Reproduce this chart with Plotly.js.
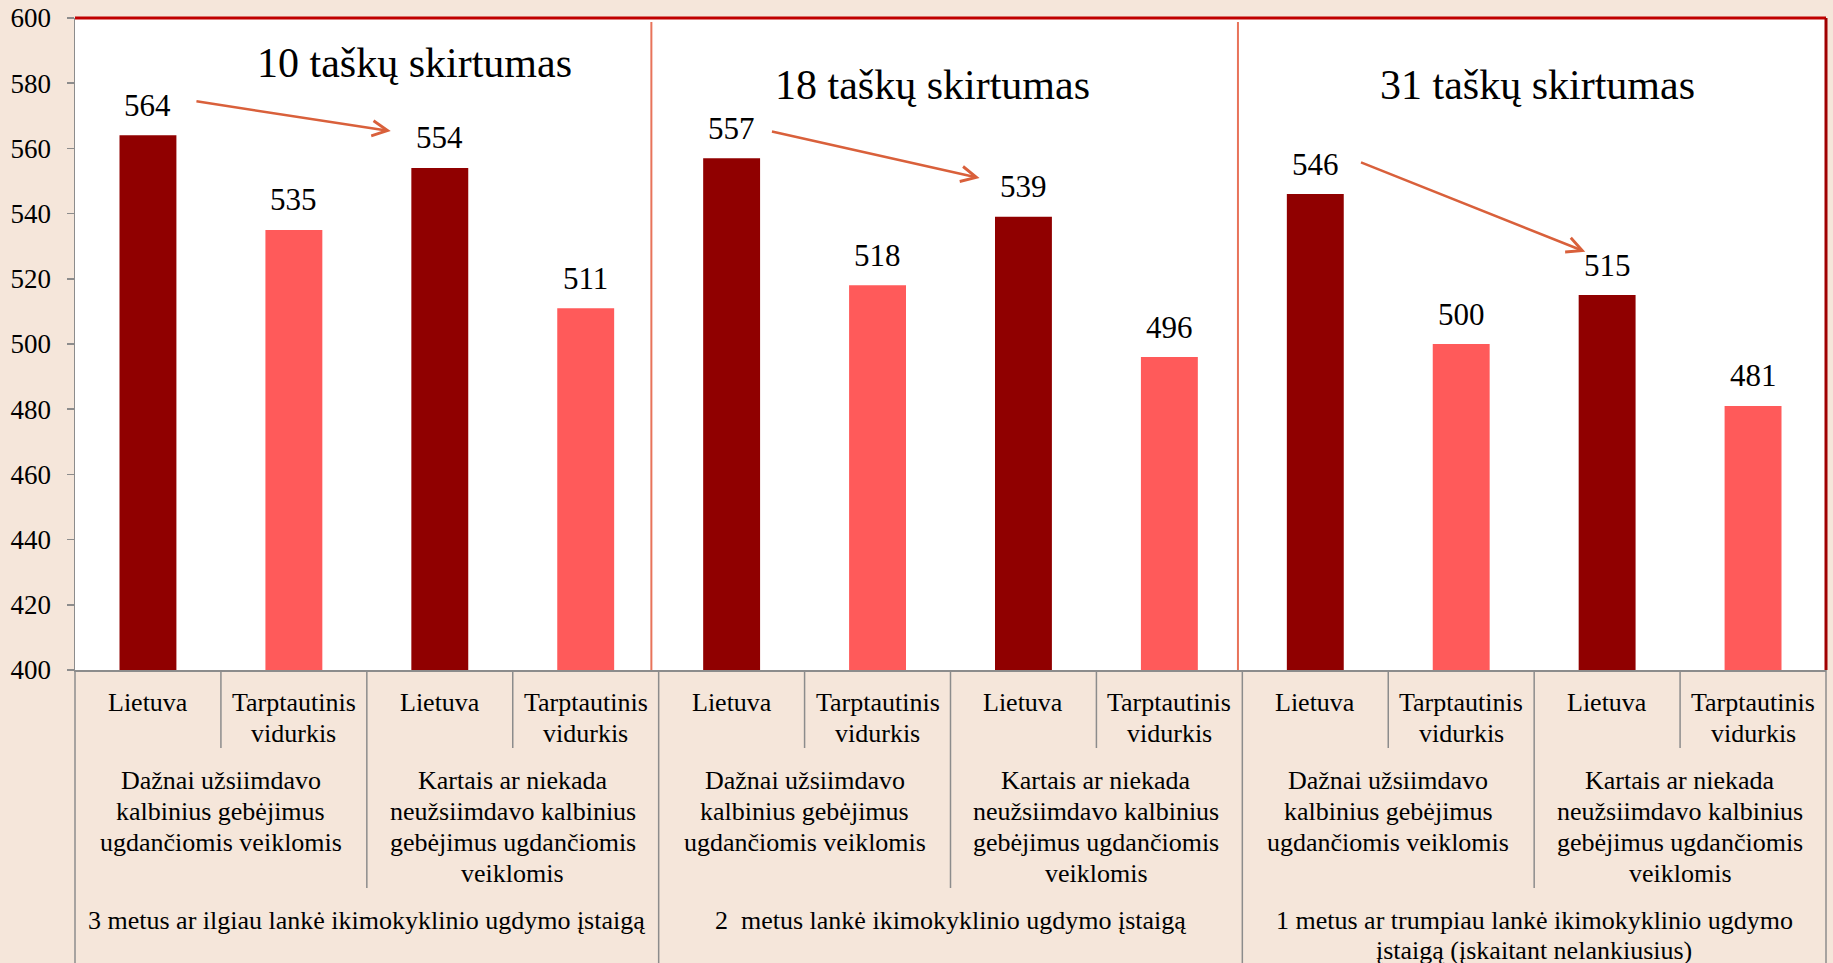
<!DOCTYPE html>
<html>
<head>
<meta charset="utf-8">
<script src="https://cdn.plot.ly/plotly-3.0.1.min.js"></script>
<style>
  html, body { margin: 0; padding: 0; background: #F5E6DA; }
  #chart { width: 1833px; height: 963px; }
</style>
</head>
<body>
<div id="chart"></div>
<script>
// ---------------- DATA ----------------
const categories = [
  "Lietuva", "Tarptautinis vidurkis", "Lietuva", "Tarptautinis vidurkis",
  "Lietuva", "Tarptautinis vidurkis", "Lietuva", "Tarptautinis vidurkis",
  "Lietuva", "Tarptautinis vidurkis", "Lietuva", "Tarptautinis vidurkis"
];
const lietuvaValues = [564, 554, 557, 539, 546, 515];
const tarptautinisValues = [535, 511, 518, 496, 500, 481];

const level1Labels = [
  "Lietuva", "Tarptautinis\nvidurkis", "Lietuva", "Tarptautinis\nvidurkis",
  "Lietuva", "Tarptautinis\nvidurkis", "Lietuva", "Tarptautinis\nvidurkis",
  "Lietuva", "Tarptautinis\nvidurkis", "Lietuva", "Tarptautinis\nvidurkis"
];
const level2Labels = [
  "Dažnai užsiimdavo\nkalbinius gebėjimus\nugdančiomis veiklomis",
  "Kartais ar niekada\nneužsiimdavo kalbinius\ngebėjimus ugdančiomis\nveiklomis",
  "Dažnai užsiimdavo\nkalbinius gebėjimus\nugdančiomis veiklomis",
  "Kartais ar niekada\nneužsiimdavo kalbinius\ngebėjimus ugdančiomis\nveiklomis",
  "Dažnai užsiimdavo\nkalbinius gebėjimus\nugdančiomis veiklomis",
  "Kartais ar niekada\nneužsiimdavo kalbinius\ngebėjimus ugdančiomis\nveiklomis"
];
const level3Labels = [
  "3 metus ar ilgiau lankė ikimokyklinio ugdymo įstaigą",
  "2\u00A0 metus lankė ikimokyklinio ugdymo įstaigą",
  "1 metus ar trumpiau lankė ikimokyklinio ugdymo\nįstaigą (įskaitant nelankiusius)"
];
const differenceTitles = ["10 taškų skirtumas", "18 taškų skirtumas", "31 taškų skirtumas"];

// ---------------- STYLE / LAYOUT HELPERS ----------------
const FONT = '"Liberation Serif", "Times New Roman", Times, serif';
const DARK = '#900000';
const LIGHT = '#FF5A5A';
const GRID_GRAY = '#8C8C8C';
const ARROW_COLOR = '#D9603B';
const N = categories.length;

const lietuvaX = lietuvaValues.map((_, k) => 2 * k);
const tarptX = tarptautinisValues.map((_, k) => 2 * k + 1);
const allValues = [];
lietuvaValues.forEach((v, k) => { allValues[2 * k] = v; allValues[2 * k + 1] = tarptautinisValues[k]; });

const traces = [
  { type: 'bar', name: 'Lietuva', x: lietuvaX, y: lietuvaValues, width: 0.39,
    marker: { color: DARK }, hoverinfo: 'skip' },
  { type: 'bar', name: 'Tarptautinis vidurkis', x: tarptX, y: tarptautinisValues, width: 0.39,
    marker: { color: LIGHT }, hoverinfo: 'skip' }
];

const annotations = [];

// value labels above bars
allValues.forEach((v, i) => {
  annotations.push({ x: i, y: v, xref: 'x', yref: 'y', text: String(v), showarrow: false,
    yanchor: 'middle', yshift: 30, font: { family: FONT, size: 31, color: '#000' } });
});

// difference titles
const titlePos = [ { x: 1.83, y: 586.2 }, { x: 5.38, y: 579.3 }, { x: 9.52, y: 579.3 } ];
differenceTitles.forEach((t, g) => {
  annotations.push({ x: titlePos[g].x, y: titlePos[g].y, xref: 'x', yref: 'y', text: t,
    showarrow: false, yanchor: 'middle', font: { family: FONT, size: 42, color: '#000' } });
});

// arrows from Lietuva (frequent) to Lietuva (rare) in each group
const arrowPairs = [[0, 2], [4, 6], [8, 10]];
const arrowOffsets = [
  { tx: 0.322, ty: 10.5, hx: -0.336, hy: 11.3 },
  { tx: 0.266, ty: 8.3, hx: -0.301, hy: 11.9 },
  { tx: 0.303, ty: 9.9, hx: -0.15, hy: 13.3 }
];
arrowPairs.forEach((p, g) => {
  const o = arrowOffsets[g];
  annotations.push({
    x: p[1] + o.hx, y: allValues[p[1]] + o.hy, xref: 'x', yref: 'y',
    ax: p[0] + o.tx, ay: allValues[p[0]] + o.ty, axref: 'x', ayref: 'y',
    text: '', showarrow: true, arrowhead: 5, arrowsize: 1.2, arrowwidth: 2.5,
    arrowcolor: ARROW_COLOR, standoff: 0, startstandoff: 0
  });
});

// multi-level category labels (one annotation per line)
function addLines(label, xCenter, firstShift, spacing) {
  label.split('\n').forEach((line, li) => {
    annotations.push({ x: xCenter, y: 0, xref: 'x', yref: 'paper', text: line, showarrow: false,
      yanchor: 'middle', xanchor: 'center', yshift: -(firstShift + li * spacing),
      font: { family: FONT, size: 26, color: '#000' } });
  });
}
level1Labels.forEach((l, i) => addLines(l, i, 32, 31));
level2Labels.forEach((l, k) => addLines(l, 2 * k + 0.5, 110, 31));
level3Labels.forEach((l, k) => addLines(l, 4 * k + 1.5, 250, 30));

// shapes
const plotH = 963 - 18 - 293;
const pxToPaper = (px) => -px / plotH;
const shapes = [];
// separators below the axis
for (let b = 0; b <= N; b++) {
  let depth;
  if (b % 4 === 0) depth = 300;
  else if (b % 2 === 0) depth = 218;
  else depth = 78;
  shapes.push({ type: 'line', xref: 'paper', yref: 'paper', x0: b / N, x1: b / N,
    y0: 0, y1: pxToPaper(depth), line: { color: GRID_GRAY, width: 1.5 } });
}
// red dividers inside plot
[3.45, 7.47].forEach(xv => {
  shapes.push({ type: 'line', xref: 'x', yref: 'paper', x0: xv, x1: xv, y0: 0, y1: 0.994,
    line: { color: '#E8735A', width: 2 } });
});
// top and right red border
shapes.push({ type: 'line', xref: 'paper', yref: 'paper', x0: 0, x1: 1, y0: 1, y1: 1,
  line: { color: '#C00000', width: 3 } });
shapes.push({ type: 'line', xref: 'paper', yref: 'paper', x0: 1, x1: 1, y0: 0, y1: 1,
  line: { color: '#A00000', width: 3 } });

const layout = {
  width: 1833, height: 963,
  margin: { l: 75, r: 7, t: 18, b: 293, pad: 0 },
  paper_bgcolor: '#F5E6DA',
  plot_bgcolor: '#FFFFFF',
  showlegend: false,
  barmode: 'overlay',
  font: { family: FONT, color: '#000' },
  xaxis: { range: [-0.5, N - 0.5], showticklabels: false, showgrid: false, zeroline: false,
    showline: true, linecolor: GRID_GRAY, linewidth: 1.5, ticks: '', fixedrange: true },
  yaxis: { range: [400, 600], tick0: 400, dtick: 20, ticks: 'outside', ticklen: 7, tickwidth: 1.5,
    tickcolor: GRID_GRAY, showline: true, linecolor: GRID_GRAY, linewidth: 1.5,
    showgrid: false, zeroline: false, ticklabelstandoff: 10,
    tickfont: { family: FONT, size: 27, color: '#000' }, fixedrange: true },
  annotations: annotations,
  shapes: shapes
};

Plotly.newPlot('chart', traces, layout, { staticPlot: true, displayModeBar: false });
</script>
</body>
</html>
